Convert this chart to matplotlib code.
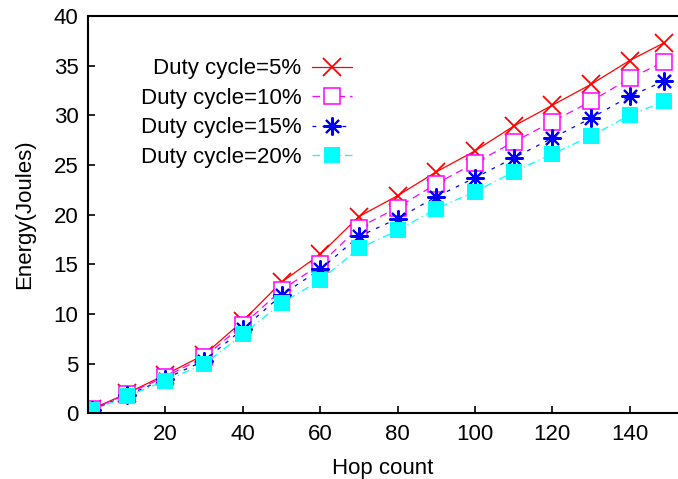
import matplotlib
matplotlib.use('Agg')
import matplotlib.pyplot as plt

plt.rcParams['font.family'] = ['Liberation Sans', 'DejaVu Sans']

hops = [1, 10, 20, 30, 40, 50, 60, 70, 80, 90, 100, 110, 120, 130, 140, 149]

duty_5 = [0.45, 2.0, 3.9, 5.9, 9.3, 13.2, 16.0, 19.8, 21.9, 24.3, 26.4, 28.9, 31.0, 33.1, 35.5, 37.3]
duty_10 = [0.4, 1.95, 3.7, 5.65, 8.9, 12.4, 15.0, 18.7, 20.7, 23.1, 25.2, 27.3, 29.35, 31.4, 33.7, 35.4]
duty_15 = [0.35, 1.8, 3.5, 5.3, 8.5, 11.9, 14.5, 17.8, 19.6, 21.8, 23.7, 25.7, 27.7, 29.7, 31.9, 33.45]
duty_20 = [0.3, 1.7, 3.3, 4.95, 7.95, 11.1, 13.4, 16.6, 18.4, 20.6, 22.3, 24.3, 26.1, 27.9, 30.0, 31.4]

labels = ['Duty cycle=5%', 'Duty cycle=10%', 'Duty cycle=15%', 'Duty cycle=20%']

FS = 16

fig = plt.figure(figsize=(6.78, 4.79), dpi=100)
ax = fig.add_axes([0.130, 0.137, 0.870, 0.830])

# gnuplot-ish styles
ax.plot(hops, duty_5, color='red', linestyle='-', linewidth=0.9,
        marker='x', markersize=13, markeredgewidth=1.3, label=labels[0])
ax.plot(hops, duty_10, color='magenta', linestyle=(0, (6, 4)), linewidth=0.9,
        marker='s', markersize=11, markerfacecolor='white', markeredgewidth=1.1,
        label=labels[1])
ax.plot(hops, duty_15, color='blue', linestyle=(0, (3, 5)), linewidth=0.9,
        marker=(8, 2, 0), markersize=13, markeredgewidth=1.5, label=labels[2])
ax.plot(hops, duty_20, color='cyan', linestyle=(0, (6, 3, 1, 3)), linewidth=0.9,
        marker='s', markersize=11, markeredgewidth=0, label=labels[3])

ax.set_xlim(0, 152.5)
ax.set_ylim(0, 40)
ax.set_xticks([20, 40, 60, 80, 100, 120, 140])
ax.set_yticks(range(0, 41, 5))
ax.tick_params(direction='in', length=5, width=1.2, labelsize=FS)
ax.tick_params(axis='y', pad=7)
ax.tick_params(axis='x', pad=8)

for s in ('left', 'bottom', 'top'):
    ax.spines[s].set_linewidth(1.5)
ax.spines['right'].set_visible(False)

ax.set_xlabel('Hop count', fontsize=FS, labelpad=9)
ax.set_ylabel('Energy(Joules)', fontsize=FS, labelpad=13)

ax.legend(loc='upper right', bbox_to_anchor=(0.473, 0.932), frameon=False,
          markerfirst=False, fontsize=FS, handlelength=1.8, handletextpad=0.45,
          labelspacing=0.38, borderpad=0.2)

fig.savefig('out.png', dpi=100)
